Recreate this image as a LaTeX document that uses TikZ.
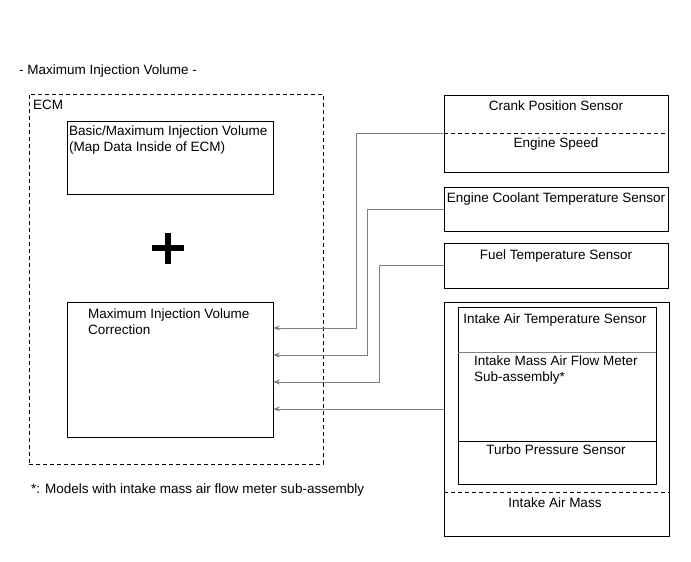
\documentclass[tikz,border=0pt]{standalone}
\usepackage{fontspec}
\setmainfont{Liberation Sans}
\usetikzlibrary{arrows.meta}

\begin{document}
\begin{tikzpicture}[x=1pt,y=-1pt,>={Stealth[length=7pt,width=5pt]},
  txt/.style={font=\fontsize{13.5}{15.5}\selectfont,inner sep=0pt},
  box/.style={draw,line width=0.8pt,anchor=north west,inner sep=0pt,outer sep=0pt},
  dbox/.style={box,dash pattern=on 4pt off 3pt},
  divide/.style={line width=0.8pt,dash pattern=on 4pt off 3pt},
  conn/.style={draw=gray,line width=0.7pt,->}]
\useasboundingbox (0,0) rectangle (691,562);

\node[txt,anchor=mid west] (title) at (19,72) {- Maximum Injection Volume -};

\node[dbox,minimum width=294,minimum height=370] (ecm) at (29,94) {};
\node[txt,anchor=mid west] (ecmlbl) at (33,107) {ECM};
\node[box,minimum width=206,minimum height=73] (basic) at (67,121) {};
\node[txt,anchor=north west,align=left] (basictxt) at (69,126) {Basic/Maximum Injection Volume\\(Map Data Inside of ECM)};
\draw[line width=5.5pt] (152,248) -- (184,248) (168,233) -- (168,264);
\node[box,minimum width=206,minimum height=135] (corr) at (67,302) {};
\node[txt,anchor=north west,align=left] (corrtxt) at (88,309) {Maximum Injection Volume\\Correction};
\node[txt,anchor=mid west] (note) at (31,491) {*: Models with intake mass air flow meter sub-assembly};

\node[box,minimum width=224,minimum height=77] (crank) at (444,95) {};
\draw[divide] (crank.west) -- (crank.east);
\node[txt,anchor=mid] (cranktxt) at (556,108) {Crank Position Sensor};
\node[txt,anchor=mid] (speedtxt) at (556,145) {Engine Speed};
\node[box,minimum width=224,minimum height=44] (cool) at (444,187) {};
\node[txt,anchor=mid] (cooltxt) at (556,200) {Engine Coolant Temperature Sensor};
\node[box,minimum width=224,minimum height=45] (fuel) at (444,243) {};
\node[txt,anchor=mid] (fueltxt) at (556,257) {Fuel Temperature Sensor};

\node[box,minimum width=225,minimum height=234] (intake) at (444,302) {};
\node[box,minimum width=198,minimum height=177] (inner) at (458,307) {};
\draw[gray,line width=1pt] (458,352) -- (656,352);
\draw[line width=0.8pt] (458,441) -- (656,441);
\draw[divide] (intake.west |- 0,492) -- (intake.east |- 0,492);
\node[txt,anchor=mid] (iattxt) at (555,321) {Intake Air Temperature Sensor};
\node[txt,anchor=north west,align=left] (mafttxt) at (474,356) {Intake Mass Air Flow Meter\\Sub-assembly*};
\node[txt,anchor=mid] (turbotxt) at (556,452) {Turbo Pressure Sensor};
\node[txt,anchor=mid] (masstxt) at (555,505) {Intake Air Mass};

\coordinate (j1) at (356,328);
\coordinate (j2) at (367,355);
\coordinate (j3) at (379,382);
\coordinate (j4) at (444,409);
\draw[conn] (crank.west) -| (j1) -- (corr.east |- j1);
\draw[conn] (cool.west) -| (j2) -- (corr.east |- j2);
\draw[conn] (fuel.west) -| (j3) -- (corr.east |- j3);
\draw[conn] (intake.west |- j4) -- (corr.east |- j4);
\end{tikzpicture}
\end{document}
